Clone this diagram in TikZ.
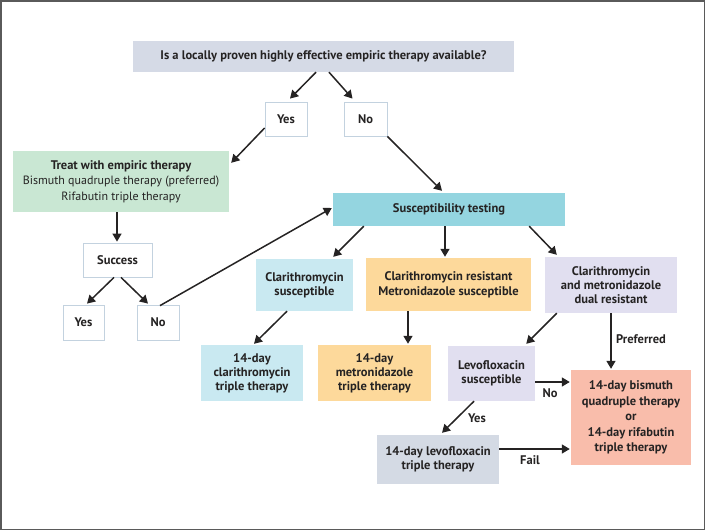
\documentclass[tikz,border=0pt]{standalone}
\usepackage{fontspec}
\setmainfont{PT Sans}
\usetikzlibrary{arrows.meta}
\definecolor{txt}{HTML}{252323}
\definecolor{cTop}{HTML}{D5DAE6}
\definecolor{cTreat}{HTML}{C9E7D3}
\definecolor{cSusc}{HTML}{94D5E0}
\definecolor{cCyan}{HTML}{C9E9F1}
\definecolor{cOrange}{HTML}{FDD99B}
\definecolor{cLav}{HTML}{E1DFF0}
\definecolor{cSalmon}{HTML}{F9BDAB}
\definecolor{cGray}{HTML}{D4DAE4}
\definecolor{cWBorder}{HTML}{C3D2DF}
\definecolor{cFrame}{HTML}{5A5A5A}
\tikzset{
  bx/.style={rectangle, inner sep=1pt, align=center, text=txt, font=\fontsize{12.5}{14}\selectfont\bfseries},
  wbox/.style={bx, draw=cWBorder, line width=0.8pt, fill=white},
  arr/.style={draw=txt, line width=1.5pt, -{Triangle[length=8pt,width=9pt]}},
  lbl/.style={text=txt, font=\fontsize{12.5}{14}\selectfont\bfseries, inner sep=0pt}
}
\begin{document}
\begin{tikzpicture}[x=1pt,y=-1pt]
\useasboundingbox (0,0) rectangle (706,531);
\draw[cFrame, line width=1.5pt] (0.75,0.75) rectangle (704.5,529.5);
% nodes
\node[bx, fill=cTop, minimum width=381pt, minimum height=31pt] (top) at (323.5,56.5) {Is a locally proven highly effective empiric therapy available?};
\node[wbox, minimum width=42pt, minimum height=34pt] (yes1) at (286,119) {Yes};
\node[wbox, minimum width=43pt, minimum height=34pt] (no1) at (365.5,119) {No};
\node[bx, fill=cTreat, minimum width=216pt, minimum height=61pt, font=\fontsize{12}{15.5}\selectfont] (treat) at (121,181.5) {{\fontsize{12.5}{15.5}\selectfont\bfseries Treat with empiric therapy}\\Bismuth quadruple therapy (preferred)\\Rifabutin triple therapy};
\node[wbox, minimum width=69pt, minimum height=34pt] (succ) at (117.5,260) {Success};
\node[wbox, minimum width=41pt, minimum height=35pt] (yes2) at (83.5,322.5) {Yes};
\node[wbox, minimum width=42pt, minimum height=35pt] (no2) at (158,322.5) {No};
\node[bx, fill=cSusc, minimum width=232pt, minimum height=33pt] (susc) at (449,209.5) {Susceptibility testing};
\node[bx, fill=cCyan, minimum width=97pt, minimum height=52pt] (clars) at (304.5,285) {Clarithromycin\\susceptible};
\node[bx, fill=cOrange, minimum width=165pt, minimum height=53pt, font=\fontsize{12.5}{14.7}\selectfont\bfseries] (clarr) at (448.5,284.5) {Clarithromycin resistant\\Metronidazole susceptible};
\node[bx, fill=cLav, minimum width=132pt, minimum height=56pt] (dual) at (611,285) {Clarithromycin\\and metronidazole\\dual resistant};
\node[bx, fill=cCyan, minimum width=102pt, minimum height=56pt] (c14) at (252,373) {14-day\\clarithromycin\\triple therapy};
\node[bx, fill=cOrange, minimum width=113pt, minimum height=56pt] (m14) at (374.5,373) {14-day\\metronidazole\\triple therapy};
\node[bx, fill=cLav, minimum width=87pt, minimum height=55pt] (levo) at (491.5,373.5) {Levofloxacin\\susceptible};
\node[bx, fill=cSalmon, minimum width=120pt, minimum height=95pt, font=\fontsize{12.5}{15.6}\selectfont\bfseries] (bism) at (631,417.5) {14-day bismuth\\quadruple therapy\\or\\14-day rifabutin\\triple therapy};
\node[bx, fill=cGray, minimum width=122pt, minimum height=49pt] (levo14) at (438,459.5) {14-day levofloxacin\\triple therapy};
% connectors
\draw[arr] ([xshift=-7.5pt]top.south) -- ([xshift=4pt,yshift=3pt]yes1.north);
\draw[arr] ([xshift=5.5pt]top.south) -- ([xshift=-13pt,yshift=3pt]no1.north);
\draw[arr] ([yshift=-9pt]yes1.west) -- ([xshift=2pt,yshift=-12pt]treat.north east);
\draw[arr] (no1.south east) -- ([xshift=-7pt,yshift=2pt]susc.north);
\draw[arr] ([xshift=-4pt]treat.south) -- ([xshift=-0.5pt,yshift=1pt]succ.north);
\draw[arr] ([xshift=-3.5pt]succ.south) -- ([xshift=3.5pt,yshift=1pt]yes2.north);
\draw[arr] ([xshift=3.5pt]succ.south) -- ([xshift=-10pt,yshift=1pt]no2.north);
\draw[arr] ([xshift=2pt,yshift=-1pt]no2.north) -- ([xshift=-1pt,yshift=1.5pt]susc.west);
\draw[arr] ([xshift=31pt]susc.south west) -- ([xshift=-20pt,yshift=2pt]clars.north east);
\draw[arr] ([xshift=-4pt]susc.south) -- ([xshift=-3.5pt,yshift=1pt]clarr.north);
\draw[arr] ([xshift=-36pt]susc.south east) -- ([xshift=12pt,yshift=2pt]dual.north west);
\draw[arr] ([xshift=-17.5pt]clars.south) -- ([xshift=2pt,yshift=1pt]c14.north);
\draw[arr] ([xshift=-40.5pt]clarr.south) -- ([xshift=33.5pt,yshift=1pt]m14.north);
\draw[arr] ([xshift=12pt]dual.south west) -- ([xshift=-9pt,yshift=2pt]levo.north east);
\draw[arr] (dual.south) -- ([xshift=-20pt,yshift=1pt]bism.north);
\draw[arr] ([yshift=-8.5pt]levo.east) -- ([xshift=-1pt,yshift=35.5pt]bism.west);
\draw[arr] ([xshift=-17.5pt]levo.south) -- ([xshift=4pt,yshift=2pt]levo14.north);
\draw[arr] ([yshift=10.5pt]levo14.east) -- ([xshift=-1pt,yshift=-31.5pt]bism.west);
% labels
\node[lbl] (lpref) at (641,339) {Preferred};
\node[lbl] (lno) at (550,393) {No};
\node[lbl] (lyes) at (477,418) {Yes};
\node[lbl] (lfail) at (530,460) {Fail};
\end{tikzpicture}
\end{document}
